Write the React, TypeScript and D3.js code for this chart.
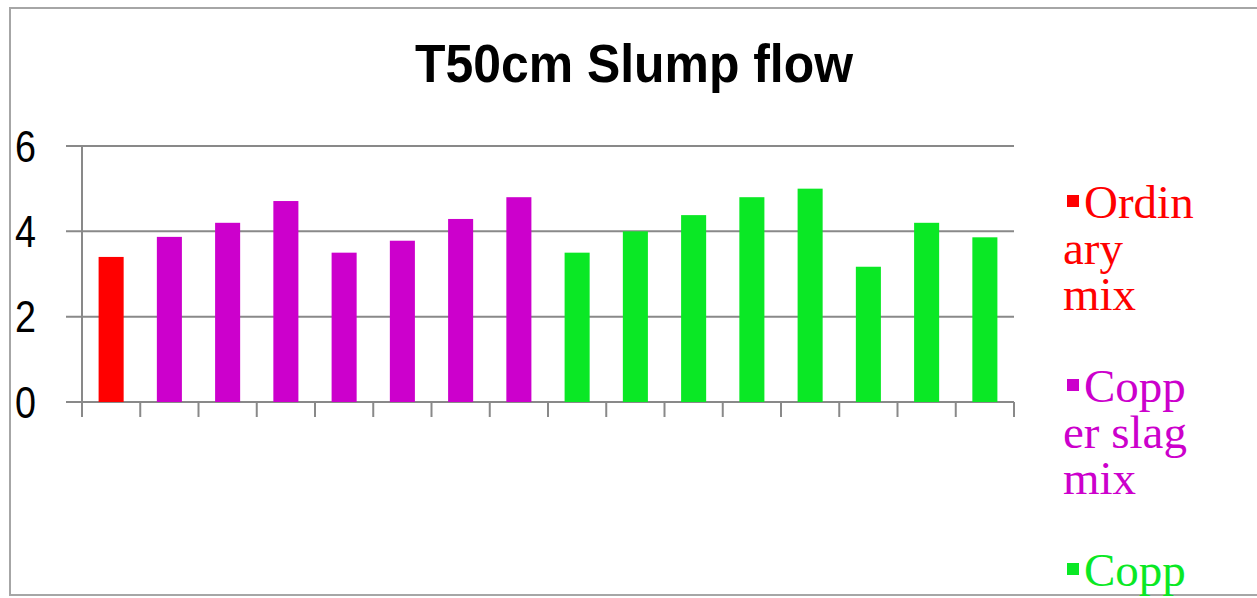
import React from 'react';
import * as d3 from 'd3';

const categories = ['M1', 'M2', 'M3', 'M4', 'M5', 'M6', 'M7', 'M8', 'M9', 'M10', 'M11', 'M12', 'M13', 'M14', 'M15', 'M16'];
const seriesIndex = [0, 1, 1, 1, 1, 1, 1, 1, 2, 2, 2, 2, 2, 2, 2, 2];
const values = [3.4, 3.87, 4.2, 4.71, 3.5, 3.78, 4.29, 4.8, 3.5, 4.0, 4.38, 4.8, 5.0, 3.17, 4.2, 3.86];
const seriesNames = ['Ordinary mix', 'Copper slag mix', 'Copper slag fly ash mix'];
const seriesColors = ['#ff0000', '#cc00cc', '#0ae825'];
// legend text is wrapped the way the narrow legend box wraps it
const legendLines = [['Ordin', 'ary', 'mix'], ['Copp', 'er slag', 'mix'], ['Copp', 'er slag', 'fly ash', 'mix']];
const yTicks = [0, 2, 4, 6];

const W = 1257;
const H = 598;
const plot = { left: 82, right: 1014, top: 146, bottom: 402 };
const gridColor = '#898989';

export default function App() {
  const x = d3.scaleBand<string>()
    .domain(categories)
    .range([plot.left, plot.right])
    .paddingInner(0.57)
    .paddingOuter(0.285);

  const y = d3.scaleLinear()
    .domain([0, 6])
    .range([plot.bottom, plot.top]);

  const step = x.step();
  const lineH = 46;

  return (
    <svg width={W} height={H} style={{ position: 'absolute', left: 0, top: 0, background: '#fff' }}>
      <rect x={10} y={8} width={1270} height={587} fill="#fff" stroke="#a6a6a6" strokeWidth={2} />

      <text
        x={634}
        y={82}
        textAnchor="middle"
        textLength={438}
        lengthAdjust="spacingAndGlyphs"
        fontFamily="'Liberation Sans Narrow', 'Liberation Sans', Arial, sans-serif"
        fontWeight="bold"
        fontSize={54}
        fill="#000"
      >
        T50cm Slump flow
      </text>

      {/* gridlines + y ticks */}
      {yTicks.map(t => (
        <g key={t}>
          <line x1={66} x2={plot.right} y1={y(t)} y2={y(t)} stroke={gridColor} strokeWidth={2} />
          <text
            x={36}
            y={y(t) + 15.5}
            textAnchor="end"
            textLength={21}
            lengthAdjust="spacingAndGlyphs"
            fontFamily="'Liberation Sans', Arial, sans-serif"
            fontSize={44}
            fill="#000"
          >
            {t}
          </text>
        </g>
      ))}

      {/* bars */}
      {values.map((v, i) => (
        <rect
          key={categories[i]}
          x={x(categories[i])}
          y={y(v)}
          width={x.bandwidth()}
          height={y(0) - y(v)}
          fill={seriesColors[seriesIndex[i]]}
        />
      ))}

      {/* axes */}
      <line x1={plot.left} x2={plot.left} y1={plot.top} y2={417} stroke={gridColor} strokeWidth={2} />
      {categories.map((c, i) => (
        <line
          key={'t' + c}
          x1={plot.left + step * (i + 1)}
          x2={plot.left + step * (i + 1)}
          y1={plot.bottom}
          y2={417}
          stroke={gridColor}
          strokeWidth={2}
        />
      ))}

      {/* legend */}
      {seriesNames.map((name, s) => {
        const base = 218 + s * lineH * 4;
        return (
          <g key={name} fill={seriesColors[s]}>
            <rect x={1067} y={base - 23} width={12} height={12} />
            <text y={base} fontFamily="'Liberation Serif', 'Times New Roman', serif" fontSize={47}>
              {legendLines[s].map((ln, j) => (
                <tspan key={j} x={j === 0 ? 1084 : 1063} dy={j === 0 ? 0 : lineH}>
                  {ln}
                </tspan>
              ))}
            </text>
          </g>
        );
      })}
    </svg>
  );
}
